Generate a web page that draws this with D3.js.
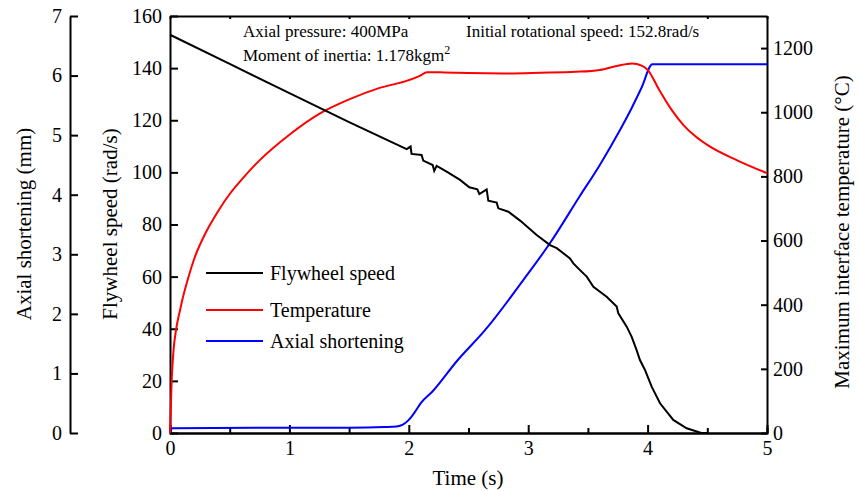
<!DOCTYPE html>
<html>
<head>
<meta charset="utf-8">
<script src="https://cdn.jsdelivr.net/npm/d3@7"></script>
<style>
  body { margin: 0; background: #fff; }
  svg, svg text { font-family: "Liberation Serif", "Times New Roman", serif; }
</style>
</head>
<body>
<svg id="chart" width="859" height="491"></svg>
<script>
// flywheel speed (rad/s) vs time (s)
const speedTime = [0, 0.5, 1.0, 1.5, 1.982, 2.015, 2.023, 2.107, 2.121, 2.2, 2.213, 2.233, 2.317, 2.429, 2.507, 2.574, 2.591, 2.652, 2.666, 2.736, 2.75, 2.834, 2.932, 3.071, 3.183, 3.239, 3.35, 3.378, 3.434, 3.49, 3.546, 3.657, 3.741, 3.755, 3.825, 3.866, 3.908, 3.936, 3.978, 4.034, 4.104, 4.215, 4.327, 4.45, 4.5]
const speedValues = [152.8, 141.6, 130.4, 119.3, 108.9, 109.9, 107.1, 106.7, 104.5, 102.8, 100.6, 102.5, 100.3, 97.1, 94.3, 93.5, 91.7, 93.5, 89.1, 88.4, 86.2, 84.9, 81.5, 76.0, 72.1, 70.9, 67.0, 65.1, 62.5, 60.0, 56.1, 52.3, 48.5, 45.9, 40.8, 37.0, 31.8, 28.0, 24.2, 17.8, 11.4, 5.0, 1.8, 0, 0]

// maximum interface temperature (°C)
const tempTime = [0, 0.014, 0.03, 0.05, 0.084, 0.1, 0.15, 0.2, 0.3, 0.4, 0.5, 0.6, 0.75, 1.0, 1.25, 1.5, 1.75, 2.0, 2.1, 2.15, 2.3, 2.5, 2.8, 3.1, 3.4, 3.6, 3.75, 3.87, 3.95, 4.0, 4.1, 4.2, 4.3, 4.4, 4.5, 4.75, 5.0]
const tempValues = [0, 165, 260, 320, 383, 410, 480, 540, 625, 690, 745, 790, 850, 930, 995, 1040, 1075, 1100, 1115, 1125, 1124, 1122, 1121, 1123, 1126, 1132, 1145, 1152, 1145, 1132, 1068, 1008, 960, 925, 898, 850, 810]

// axial shortening (mm)
const shortTime = [0, 0.02, 1.0, 1.5, 1.8, 1.9, 1.95, 2.0, 2.05, 2.1, 2.2, 2.4, 2.64, 2.96, 3.18, 3.43, 3.6, 3.77, 3.84, 3.95, 4.04, 5.0]
const shortValues = [0, 0.08, 0.09, 0.09, 0.1, 0.11, 0.14, 0.22, 0.35, 0.5, 0.7, 1.2, 1.73, 2.57, 3.18, 3.97, 4.5, 5.09, 5.35, 5.8, 6.19, 6.19]

const legendLabels = ["Flywheel speed", "Temperature", "Axial shortening"]
const legendColors = ["#000000", "#ff0000", "#0000ff"]

const svg = d3.select("#chart")
const font = "Liberation Serif"

const x = d3.scaleLinear([0, 5], [170, 767])
const ySpeed = d3.scaleLinear([0, 160], [433, 16])
const yTemp = d3.scaleLinear([0, 1300], [433, 16])
const yShort = d3.scaleLinear([0, 7], [433, 16])

const styleAxis = (g) => {
    g.attr("font-family", font).attr("font-size", 20)
    g.selectAll("path, line").attr("stroke", "#000").attr("stroke-width", 2)
    g.selectAll("text").attr("fill", "#000").attr("font-family", font).attr("font-size", 20)
}

// bottom axis
svg.append("g")
    .attr("transform", "translate(0,433)")
    .call(d3.axisBottom(x).tickValues([0.5, 1.5, 2.5, 3.5, 4.5]).tickSize(-5).tickFormat(""))
    .call(styleAxis)
svg.append("g")
    .attr("transform", "translate(0,433)")
    .call(d3.axisBottom(x).ticks(5).tickSizeInner(-8).tickSizeOuter(0).tickPadding(8).tickFormat(d3.format("d")))
    .call(styleAxis)

// top frame
svg.append("g")
    .attr("transform", "translate(0,16)")
    .call(d3.axisTop(x).tickValues(d3.range(0, 5.01, 0.5)).tickSizeInner(-3).tickSizeOuter(0).tickFormat(""))
    .call(styleAxis)

// flywheel speed axis
svg.append("g")
    .attr("transform", "translate(170,0)")
    .call(d3.axisLeft(ySpeed).tickValues(d3.range(0, 161, 20)).tickSizeInner(-8).tickSizeOuter(0).tickPadding(8).tickFormat(d3.format("d")))
    .call(styleAxis)

// axial shortening axis
svg.append("g")
    .attr("transform", "translate(70,0)")
    .call(d3.axisLeft(yShort).tickValues(d3.range(0, 8, 1)).tickSizeInner(-8).tickSizeOuter(0).tickPadding(8).tickFormat(d3.format("d")))
    .call(styleAxis)

// temperature axis
svg.append("g")
    .attr("transform", "translate(767,0)")
    .call(d3.axisRight(yTemp).tickValues(d3.range(0, 1201, 200)).tickSizeInner(-6).tickSizeOuter(0).tickPadding(6).tickFormat(d3.format("d")))
    .call(styleAxis)

// axis titles
svg.append("text").attr("x", 468).attr("y", 485).attr("text-anchor", "middle")
    .attr("font-family", font).attr("font-size", 21).text("Time (s)")
svg.append("text").attr("transform", "translate(31,224) rotate(-90)").attr("text-anchor", "middle")
    .attr("font-family", font).attr("font-size", 21).text("Axial shortening (mm)")
svg.append("text").attr("transform", "translate(117,224) rotate(-90)").attr("text-anchor", "middle")
    .attr("font-family", font).attr("font-size", 21).text("Flywheel speed (rad/s)")
svg.append("text").attr("transform", "translate(849,232) rotate(-90)").attr("text-anchor", "middle")
    .attr("font-family", font).attr("font-size", 21).text("Maximum interface temperature (\u00b0C)")

// lines
const lineOf = (ts, vs, y, curve) => d3.line().curve(curve).x((d, i) => x(ts[i])).y((d) => y(d))(vs)

svg.append("path").attr("d", lineOf(shortTime, shortValues, yShort, d3.curveMonotoneX))
    .attr("fill", "none").attr("stroke", "#0000ff").attr("stroke-width", 2)
svg.append("path").attr("d", lineOf(tempTime, tempValues, yTemp, d3.curveMonotoneX))
    .attr("fill", "none").attr("stroke", "#ff0000").attr("stroke-width", 2)
svg.append("path").attr("d", lineOf(speedTime, speedValues, ySpeed, d3.curveLinear))
    .attr("fill", "none").attr("stroke", "#000").attr("stroke-width", 2)

// annotations
const note = svg.append("g").attr("font-family", font).attr("font-size", 17).attr("fill", "#000")
note.append("text").attr("x", 243).attr("y", 37).text("Axial pressure: 400MPa")
note.append("text").attr("x", 466).attr("y", 37).text("Initial rotational speed: 152.8rad/s")
const moment = note.append("text").attr("x", 243).attr("y", 61)
moment.append("tspan").text("Moment of inertia: 1.178kgm")
moment.append("tspan").attr("dy", -7).attr("font-size", 12).text("2")

// legend
const legend = svg.append("g").attr("font-family", font).attr("font-size", 20)
const legendY = [273, 310, 341]
legendLabels.forEach((label, i) => {
    legend.append("line").attr("x1", 206).attr("x2", 263).attr("y1", legendY[i]).attr("y2", legendY[i])
        .attr("stroke", legendColors[i]).attr("stroke-width", 2)
    legend.append("text").attr("x", 270).attr("y", legendY[i] + 7).text(label)
})
</script>
</body>
</html>
